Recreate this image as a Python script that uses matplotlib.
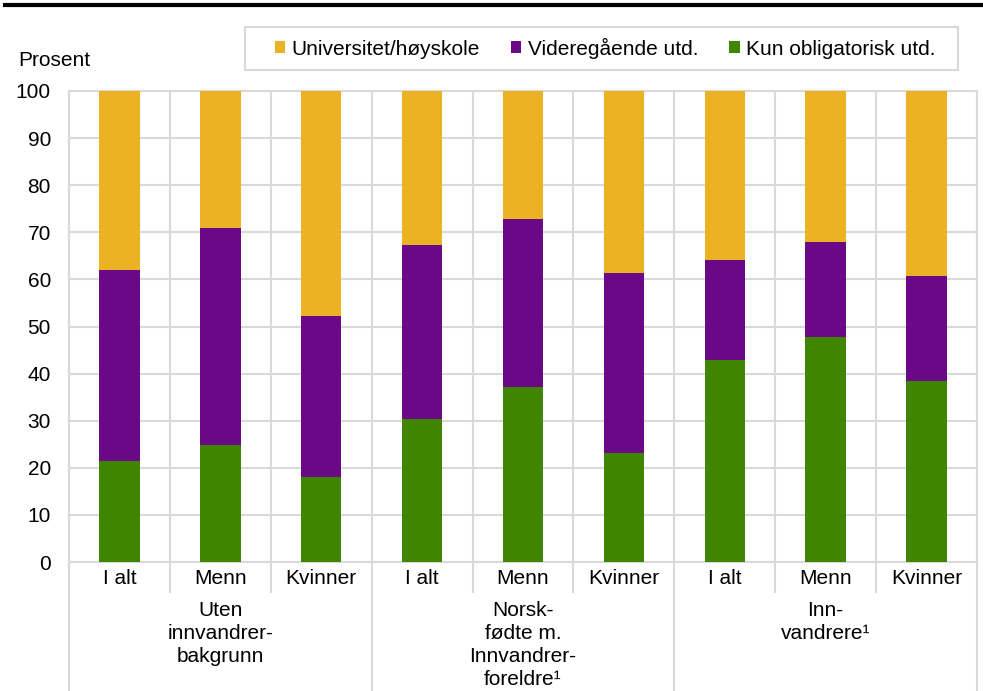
import matplotlib.pyplot as plt
from matplotlib.lines import Line2D
from matplotlib.patches import Rectangle
import numpy as np

plt.rcParams['font.family'] = ['Liberation Sans', 'DejaVu Sans']

sub_labels = ['I alt', 'Menn', 'Kvinner'] * 3
group_labels = ['Uten\ninnvandrer-\nbakgrunn', 'Norsk-\nfødte m.\nInnvandrer-\nforeldre¹', 'Inn-\nvandrere¹']
series = ['Universitet/høyskole', 'Videregående utd.', 'Kun obligatorisk utd.']

kun_oblig = [21.5, 24.8, 18.0, 30.4, 37.2, 23.1, 42.9, 47.8, 38.4]
videregaende = [40.5, 46.1, 34.2, 36.9, 35.6, 38.3, 21.2, 20.1, 22.3]
universitet = [38.0, 29.1, 47.8, 32.7, 27.2, 38.6, 35.9, 32.1, 39.3]

col_uni = '#ebb323'
col_vgs = '#6a0888'
col_kun = '#3f8500'
grid_col = '#d9d9d9'
fs = 15

W, H = 983, 691
fig = plt.figure(figsize=(W / 100, H / 100), dpi=100)
ax = fig.add_axes([69 / W, (H - 562) / H, (977 - 69) / W, (562 - 91) / H])

x = np.arange(len(sub_labels))
kun = np.array(kun_oblig)
vgs = np.array(videregaende)
uni = np.array(universitet)
b1 = ax.bar(x, kun, 0.4, color=col_kun, zorder=3, label=series[2])
b2 = ax.bar(x, vgs, 0.4, bottom=kun, color=col_vgs, zorder=3, label=series[1])
b3 = ax.bar(x, uni, 0.4, bottom=kun + vgs, color=col_uni, zorder=3, label=series[0])

ax.set_xlim(-0.5, len(x) - 0.5)
ax.set_ylim(0, 100)
ax.set_yticks(range(0, 101, 10))
ax.set_xticks(x)
ax.set_xticklabels(sub_labels)
ax.set_xticks(np.arange(-0.5, len(x), 1), minor=True)
ax.tick_params(axis='both', which='both', length=0, labelsize=fs, colors='black')
ax.tick_params(axis='y', pad=13)
ax.tick_params(axis='x', pad=5)
ax.grid(axis='y', color=grid_col, linewidth=1.5, zorder=0)
ax.grid(axis='x', which='minor', color=grid_col, linewidth=1.5, zorder=0)
for s in ax.spines.values():
    s.set_color(grid_col)
    s.set_linewidth(1.5)

# separators below the axis
trans = ax.get_xaxis_transform()
ah = 562 - 91
bottom_y = -(H - 562) / ah
for i, xs in enumerate(np.arange(-0.5, len(x), 1)):
    low = bottom_y if i % 3 == 0 else -30 / ah
    ax.add_line(Line2D([xs, xs], [0, low], transform=trans, color=grid_col,
                       linewidth=1.5, clip_on=False))

for g, lab in enumerate(group_labels):
    ax.text(3 * g + 1, -39 / ah, lab, transform=trans, ha='center', va='top',
            fontsize=fs, linespacing=1.27)

fig.text(18 / W, 1 - 60 / H, 'Prosent', fontsize=fs, va='center', ha='left')

fig.add_artist(Line2D([5 / W, 1], [1 - 5 / H, 1 - 5 / H], color='black', linewidth=3))

# legend box
fig.add_artist(Rectangle((245 / W, 1 - 70 / H), (958 - 245) / W, 43 / H,
                         transform=fig.transFigure, facecolor='white',
                         edgecolor=grid_col, linewidth=1.5))
leg = fig.legend(handles=[b3, b2, b1], labels=series, ncol=3, loc='center',
                 bbox_to_anchor=(605 / W, 1 - 48 / H), fontsize=fs, frameon=False,
                 handlelength=0.5, handleheight=0.5,
                 handletextpad=0.3, columnspacing=1.5, borderpad=0.3, borderaxespad=0)

fig.savefig('out.png', dpi=100)
